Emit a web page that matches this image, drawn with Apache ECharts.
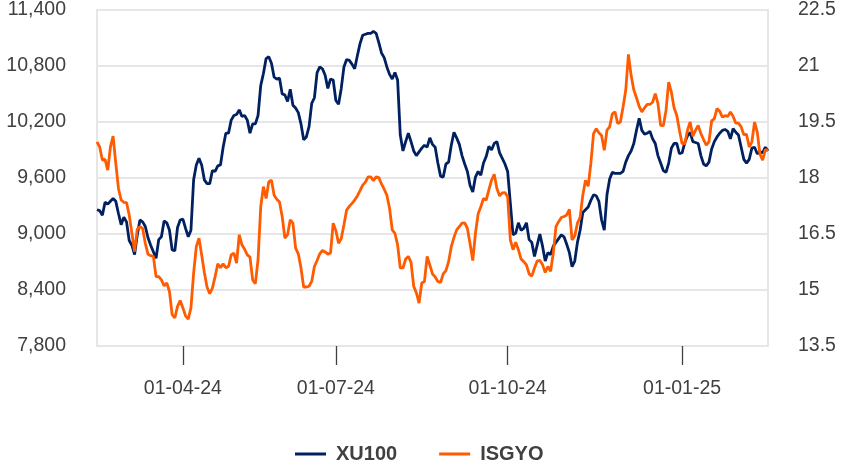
<!DOCTYPE html>
<html>
<head>
<meta charset="utf-8">
<script src="https://cdn.jsdelivr.net/npm/echarts@6/dist/echarts.min.js"></script>
<style>
  html, body { margin: 0; padding: 0; background: #fff; }
  #chart { width: 850px; height: 470px; }
</style>
</head>
<body>
<div id="chart"></div>
<script>
// trading days from 15-02-24 to 17-02-25 (Borsa Istanbul holidays removed)
const startDate = '2024-02-15'
const endDate = '2025-02-17'
const holidays = [
  '2024-04-10', '2024-04-11', '2024-04-12', '2024-04-23', '2024-05-01',
  '2024-06-17', '2024-06-18', '2024-06-19', '2024-07-15', '2024-08-30',
  '2024-10-29', '2025-01-01'
]
const tickDates = ['2024-04-01', '2024-07-01', '2024-10-01', '2025-01-01']
const tickLabels = ['01-04-24', '01-07-24', '01-10-24', '01-01-25']

const xu100 = [
  9260, 9250, 9200, 9340, 9320, 9350, 9380, 9350, 9220, 9100,
  9180, 9130, 8930, 8880, 8780, 8990, 9150, 9130, 9080, 8960,
  8880, 8810, 8740, 8940, 8970, 9140, 9120, 9040, 8830, 8820,
  9070, 9150, 9160, 9060, 8970, 9040, 9580, 9740, 9810, 9740,
  9580, 9540, 9540, 9680, 9670, 9730, 9740, 9930, 10080, 10080,
  10220, 10270, 10280, 10330, 10260, 10270, 10220, 10080, 10180, 10180,
  10270, 10590, 10720, 10880, 10900, 10830, 10680, 10660, 10670, 10500,
  10490, 10420, 10550, 10380, 10350, 10300, 10180, 10010, 10040, 10150,
  10400, 10460, 10730, 10790, 10770, 10700, 10560, 10660, 10650, 10430,
  10390, 10560, 10790, 10870, 10860, 10820, 10770, 10910, 11040, 11130,
  11140, 11150, 11150, 11170, 11150, 11050, 10940, 10890, 10790, 10710,
  10660, 10730, 10650, 10060, 9890, 9990, 10080, 9990, 9890, 9840,
  9880, 9920, 9950, 9930, 10030, 9960, 9930, 9760, 9620, 9610,
  9750, 9770, 9950, 10090, 10030, 9960, 9840, 9750, 9670, 9520,
  9450, 9610, 9670, 9630, 9760, 9830, 9940, 9900, 9970, 9990,
  9870, 9810, 9750, 9670, 9330, 8990, 9010, 9120, 9040, 9060,
  9120, 8940, 8910, 8760, 8880, 9000, 8870, 8710, 8800, 8780,
  8870, 8910, 8950, 8990, 8970, 8890, 8800, 8650, 8710, 8910,
  9040, 9230, 9260, 9290, 9360, 9420, 9410, 9350, 9150, 9040,
  9420, 9590, 9660, 9650, 9650, 9650, 9670, 9770, 9840, 9890,
  9970, 10110, 10240, 10110, 10070, 10080, 10100, 10020, 9970, 9840,
  9760, 9680, 9660, 9760, 9920, 9970, 9970, 9860, 9870, 9980,
  10050, 10090, 9990, 9980, 9970, 9840, 9750, 9730, 9770, 9910,
  9990, 10040, 10080, 10110, 10120, 10100, 10020, 10130, 10090, 10060,
  9930, 9800, 9760, 9800, 9920, 9930, 9860, 9880, 9870, 9930,
  9890
]

const isgyo = [
  18.97, 18.83, 18.48, 18.50, 18.21, 18.83, 19.12, 18.39, 17.72, 17.41,
  17.35, 17.34, 17.01, 16.52, 16.03, 16.63, 16.70, 16.65, 16.25, 15.96,
  15.92, 15.90, 15.36, 15.36, 15.27, 15.11, 15.19, 14.96, 14.34, 14.25,
  14.56, 14.72, 14.52, 14.31, 14.22, 14.52, 15.45, 16.16, 16.39, 15.94,
  15.47, 15.08, 14.90, 15.05, 15.36, 15.70, 15.60, 15.70, 15.60, 15.63,
  15.94, 15.99, 15.72, 16.48, 16.21, 16.09, 15.94, 15.88, 15.27, 15.17,
  15.81, 17.23, 17.77, 17.45, 17.90, 17.94, 17.54, 17.43, 17.36, 16.97,
  16.39, 16.48, 16.88, 16.79, 16.12, 15.97, 15.59, 15.08, 15.08, 15.10,
  15.23, 15.63, 15.79, 15.97, 16.06, 16.02, 15.96, 15.99, 16.79, 16.59,
  16.25, 16.38, 16.74, 17.14, 17.24, 17.32, 17.41, 17.52, 17.66, 17.81,
  17.89, 18.03, 18.03, 17.93, 18.03, 18.01, 17.84, 17.70, 17.54, 17.19,
  16.61, 16.52, 16.21, 15.59, 15.59, 15.83, 15.90, 15.74, 15.10, 14.92,
  14.65, 15.19, 15.23, 15.90, 15.67, 15.43, 15.35, 15.23, 15.20, 15.43,
  15.52, 15.76, 16.16, 16.41, 16.61, 16.70, 16.79, 16.80, 16.65, 16.24,
  15.79, 16.52, 17.04, 17.23, 17.45, 17.41, 17.68, 17.94, 18.10, 17.72,
  17.52, 17.60, 17.61, 17.50, 16.34, 16.08, 16.28, 16.08, 15.83, 15.76,
  15.67, 15.43, 15.37, 15.59, 15.78, 15.79, 15.68, 15.47, 15.63, 15.50,
  15.99, 16.70, 16.83, 16.94, 16.97, 17.01, 17.16, 16.34, 16.45, 16.79,
  16.95, 17.54, 17.94, 17.78, 18.39, 19.19, 19.32, 19.21, 19.14, 18.74,
  19.28, 19.37, 19.72, 19.77, 19.46, 19.50, 19.90, 20.35, 21.31, 20.75,
  20.36, 20.15, 19.92, 19.77, 19.88, 19.97, 19.97, 20.03, 20.26, 19.99,
  19.41, 19.40, 19.81, 20.57, 20.30, 19.88, 19.68, 19.28, 18.92, 18.92,
  19.28, 19.50, 19.12, 19.28, 19.41, 19.19, 19.03, 18.88, 18.97, 19.53,
  19.59, 19.86, 19.79, 19.63, 19.67, 19.65, 19.77, 19.65, 19.47, 19.47,
  19.37, 19.16, 19.17, 18.83, 18.97, 19.50, 19.23, 18.64, 18.48, 18.76,
  18.74
]

function tradingDays(from, to, skip) {
  const out = []
  const d = new Date(from + 'T00:00:00Z')
  const last = new Date(to + 'T00:00:00Z')
  while (d <= last) {
    const iso = d.toISOString().slice(0, 10)
    const wd = d.getUTCDay()
    if (wd !== 0 && wd !== 6 && !skip.includes(iso)) out.push(iso)
    d.setUTCDate(d.getUTCDate() + 1)
  }
  return out
}

const days = tradingDays(startDate, endDate, holidays)
const tickIndex = tickDates.map(t => days.findIndex(d => d >= t))
const categories = days.map(d => d.slice(8, 10) + '-' + d.slice(5, 7) + '-' + d.slice(2, 4))

const font = "'Liberation Sans', Arial, sans-serif"
const textColor = '#404040'
const gridColor = '#e6e6e6'

const chart = echarts.init(document.getElementById('chart'), null, { renderer: 'canvas' })

chart.setOption({
  animation: false,
  backgroundColor: '#fff',
  grid: {
    left: 97,
    right: 82,
    top: 9,
    bottom: 124,
    show: true,
    borderColor: gridColor,
    borderWidth: 2
  },
  legend: {
    data: ['XU100', 'ISGYO'],
    left: 290,
    top: 439,
    icon: 'rect',
    itemWidth: 31,
    itemHeight: 3,
    itemGap: 42,
    textStyle: {
      fontFamily: font,
      fontSize: 20,
      fontWeight: 'bold',
      color: textColor,
      padding: [0, 0, 0, 5]
    }
  },
  xAxis: {
    type: 'category',
    data: categories,
    boundaryGap: false,
    axisLine: { show: true, lineStyle: { color: gridColor, width: 2 } },
    axisTick: {
      show: true,
      length: 19,
      interval: idx => tickIndex.includes(idx),
      lineStyle: { color: '#404040', width: 1.3 }
    },
    axisLabel: {
      interval: idx => tickIndex.includes(idx),
      formatter: (val, idx) => {
        const k = tickIndex.indexOf(idx)
        return k >= 0 ? tickLabels[k] : ''
      },
      margin: 33,
      fontFamily: font,
      fontSize: 19.5,
      color: textColor
    },
    splitLine: { show: false }
  },
  yAxis: [
    {
      type: 'value',
      min: 7800,
      max: 11400,
      interval: 600,
      axisLine: { show: false },
      axisTick: { show: false },
      axisLabel: {
        margin: 31,
        fontFamily: font,
        fontSize: 19.5,
        color: textColor,
        formatter: v => v.toLocaleString('en-US')
      },
      splitLine: { lineStyle: { color: gridColor, width: 2 } }
    },
    {
      type: 'value',
      min: 13.5,
      max: 22.5,
      interval: 1.5,
      axisLine: { show: false },
      axisTick: { show: false },
      axisLabel: {
        margin: 30,
        fontFamily: font,
        fontSize: 19.5,
        color: textColor
      },
      splitLine: { show: false }
    }
  ],
  series: [
    {
      name: 'XU100',
      type: 'line',
      data: xu100,
      yAxisIndex: 0,
      showSymbol: false,
      color: '#002060',
      lineStyle: { color: '#002060', width: 2.8 }
    },
    {
      name: 'ISGYO',
      type: 'line',
      data: isgyo,
      yAxisIndex: 1,
      showSymbol: false,
      color: '#FF5B00',
      lineStyle: { color: '#FF5B00', width: 2.8 }
    }
  ]
})
</script>
</body>
</html>
